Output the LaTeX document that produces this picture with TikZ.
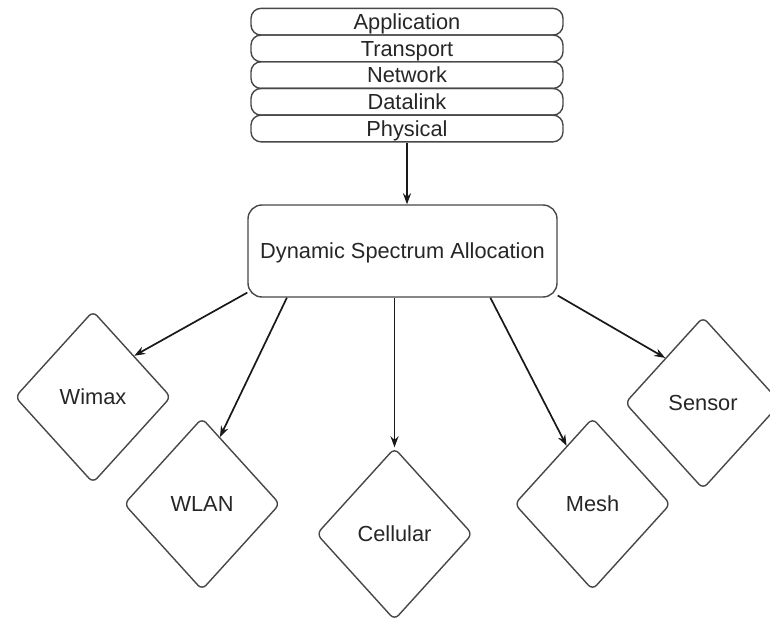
\documentclass[tikz,border=0pt]{standalone}
\usepackage{fontspec}
\setmainfont{Liberation Sans}
\usetikzlibrary{shapes.geometric,arrows.meta}
\begin{document}
\begin{tikzpicture}[x=1bp,y=-1bp,
  every node/.style={font=\fontsize{21.8bp}{24bp}\selectfont, text=black!85, inner sep=0pt, text height=15.6bp, text depth=0pt},
  layer/.style={draw=black!72, line width=1.4bp, rounded corners=10bp, minimum width=312bp, minimum height=26.7bp},
  dsabox/.style={draw=black!72, line width=1.4bp, rounded corners=14bp, minimum width=309bp, minimum height=92bp},
  net/.style={diamond, draw=black!72, line width=1.4bp, rounded corners=6bp, minimum width=156bp, minimum height=172bp},
  arr/.style={-{Stealth[length=11bp,width=8bp]}, line width=1.7bp, draw=black!90}]
\useasboundingbox (0,0) rectangle (770,620);
% protocol stack
\node[layer] (app) at (407,21.7) {Application};
\node[layer] (tra) at (407,48.4) {Transport};
\node[layer] (netw) at (407,75.1) {Network};
\node[layer] (dlink) at (407,101.8) {Datalink};
\node[layer] (phys) at (407,128.5) {Physical};
% central box
\node[dsabox] (dsa) at (402.5,251) {Dynamic Spectrum Allocation};
% networks
\node[net] (wimax) at (93,397) {Wimax};
\node[net] (wlan) at (202,504) {WLAN};
\node[net] (cell) at (394.5,534) {Cellular};
\node[net] (mesh) at (592.5,504) {Mesh};
\node[net] (sensor) at (703,403) {Sensor};
% connectors
\draw[arr] (phys.south) -- (dsa.north -| phys.south);
\draw[arr] (dsa.195) -- (wimax.45);
\draw[arr] (dsa.202) -- (wlan.75);
\draw[arr] (dsa.south -| cell.north) -- (cell.north);
\draw[arr] (dsa.332) -- (mesh.114);
\draw[arr] (dsa.344) -- (sensor.130);
\end{tikzpicture}
\end{document}
